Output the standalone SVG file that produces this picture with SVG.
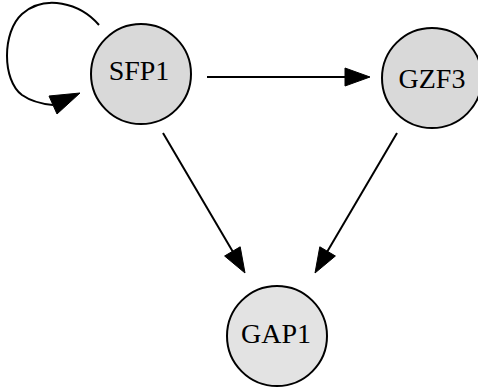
<svg xmlns="http://www.w3.org/2000/svg" width="478" height="389" viewBox="0 0 478 389">
<style>
.node circle{stroke:#000;stroke-width:2}
.node text{font-family:"Liberation Serif","Times New Roman",serif;font-size:28px;text-anchor:middle;fill:#000}
.edge{stroke:#000;stroke-width:2;fill:none}
.head{fill:#000;stroke:#000;stroke-width:1}
</style>
<rect width="478" height="389" fill="#fff"/>
<g id="connectors">
<path class="edge" d="M99,25 C80,3 45,-6 22,14 C2,32 2,80 22,95 C32,102 42,104 53,105"/>
<polygon class="head" points="80,93 49,96 57,114"/>
<path class="edge" d="M207,77 L346,77"/>
<polygon class="head" points="370,77 345,68 345,86"/>
<path class="edge" d="M163,133 L233,252"/>
<polygon class="head" points="245,273 240.2,246.8 224.6,256"/>
<path class="edge" d="M397,133 L327,252"/>
<polygon class="head" points="315,273 335.4,256 319.8,246.8"/>
</g>
<g id="SFP1" class="node">
<circle cx="141" cy="74" r="50" fill="#d9d9d9"/>
<text x="139" y="80">SFP1</text>
</g>
<g id="GZF3" class="node">
<circle cx="432" cy="78" r="50" fill="#d9d9d9"/>
<text x="432" y="88">GZF3</text>
</g>
<g id="GAP1" class="node">
<circle cx="277" cy="336" r="50" fill="#e3e3e3"/>
<text x="276" y="343">GAP1</text>
</g>
</svg>
